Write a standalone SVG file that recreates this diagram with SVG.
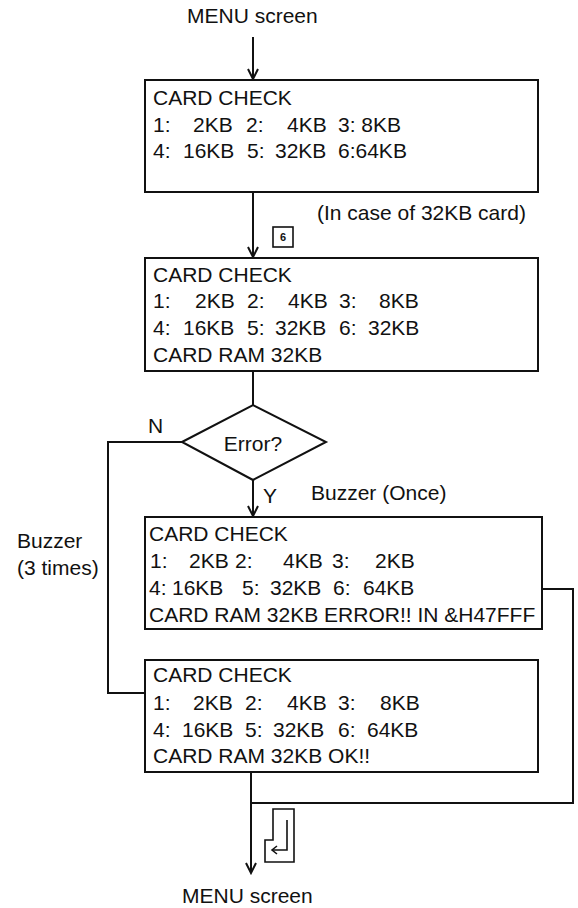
<svg xmlns="http://www.w3.org/2000/svg" width="578" height="908" viewBox="0 0 578 908">
<style>
text{font-family:"Liberation Sans",Arial,sans-serif;font-size:21px;fill:#111}
.box{fill:#fff;stroke:#111;stroke-width:2}
.ln{fill:none;stroke:#111;stroke-width:2}
.key{fill:none;stroke:#111;stroke-width:1.6}
.k{font-size:11px;font-weight:bold}
</style>
<defs>
<marker id="ah" viewBox="-12 -7 14 14" refX="0" refY="0" markerWidth="14" markerHeight="14" markerUnits="userSpaceOnUse" orient="auto">
<path d="M-10,-5 L0,0 L-10,5" fill="none" stroke="#111" stroke-width="2"/>
</marker>
</defs>
<rect width="578" height="908" fill="#fff"/>
<g id="connectors">
<path class="ln" d="M253,37 V79" marker-end="url(#ah)"/>
<path class="ln" d="M253,192 V257" marker-end="url(#ah)"/>
<path class="ln" d="M253,371 V405"/>
<path class="ln" d="M253,480 V516" marker-end="url(#ah)"/>
<path class="ln" d="M182,442 H108 V693 H145"/>
<path class="ln" d="M542,589 H573 V803 H251"/>
<path class="ln" d="M251,772 V873" marker-end="url(#ah)"/>
</g>
<g id="start">
<text x="187" y="23">MENU screen</text>
</g>
<g id="box1">
<rect class="box" x="145" y="80" width="393" height="112"/>
<text x="153" y="105">CARD CHECK</text>
<text y="132"><tspan x="153">1:</tspan><tspan x="193">2KB</tspan><tspan x="246">2:</tspan><tspan x="287">4KB</tspan><tspan x="338">3: 8KB</tspan></text>
<text y="158"><tspan x="153">4:</tspan><tspan x="183">16KB</tspan><tspan x="247">5:</tspan><tspan x="275">32KB</tspan><tspan x="338">6:64KB</tspan></text>
</g>
<g id="note32">
<text x="317" y="220">(In case of 32KB card)</text>
<rect class="key" x="273" y="227" width="20" height="20"/>
<text class="k" x="283" y="241" text-anchor="middle">6</text>
</g>
<g id="box2">
<rect class="box" x="145" y="258" width="393" height="113"/>
<text x="153" y="282">CARD CHECK</text>
<text y="308"><tspan x="153">1:</tspan><tspan x="195">2KB</tspan><tspan x="247">2:</tspan><tspan x="288">4KB</tspan><tspan x="339">3:</tspan><tspan x="379">8KB</tspan></text>
<text y="335"><tspan x="153">4:</tspan><tspan x="183">16KB</tspan><tspan x="247">5:</tspan><tspan x="275">32KB</tspan><tspan x="339">6:</tspan><tspan x="368">32KB</tspan></text>
<text x="153" y="362">CARD RAM 32KB</text>
</g>
<g id="decision">
<polygon class="box" points="182,442 253,405 326,442 253,480"/>
<text x="253" y="451" text-anchor="middle">Error?</text>
<text x="148" y="433">N</text>
<text x="263" y="503">Y</text>
<text x="311" y="500">Buzzer (Once)</text>
</g>
<g id="buzzer3">
<text x="17" y="548">Buzzer</text>
<text x="17" y="575">(3 times)</text>
</g>
<g id="box3">
<rect class="box" x="145" y="517" width="397" height="112"/>
<text x="149" y="541">CARD CHECK</text>
<text y="568"><tspan x="150">1:</tspan><tspan x="189">2KB</tspan><tspan x="235">2:</tspan><tspan x="283">4KB</tspan><tspan x="332">3:</tspan><tspan x="375">2KB</tspan></text>
<text y="595"><tspan x="149">4:</tspan><tspan x="172">16KB</tspan><tspan x="242">5:</tspan><tspan x="270">32KB</tspan><tspan x="333">6:</tspan><tspan x="363">64KB</tspan></text>
<text x="149" y="622">CARD RAM 32KB ERROR!! IN &amp;H47FFF</text>
</g>
<g id="box4">
<rect class="box" x="145" y="660" width="393" height="112"/>
<text x="153" y="682">CARD CHECK</text>
<text y="710"><tspan x="153">1:</tspan><tspan x="193">2KB</tspan><tspan x="245">2:</tspan><tspan x="287">4KB</tspan><tspan x="338">3:</tspan><tspan x="380">8KB</tspan></text>
<text y="737"><tspan x="153">4:</tspan><tspan x="182">16KB</tspan><tspan x="245">5:</tspan><tspan x="273">32KB</tspan><tspan x="338">6:</tspan><tspan x="367">64KB</tspan></text>
<text x="153" y="763">CARD RAM 32KB OK!!</text>
</g>
<g id="enterkey">
<path class="key" d="M273,809 H294 V862 H265 V840 H273 Z"/>
<path class="key" d="M287,820 V850 H272"/>
<path class="key" d="M277,846 L272,850 L277,854"/>
</g>
<g id="end">
<text x="182" y="903">MENU screen</text>
</g>
</svg>
